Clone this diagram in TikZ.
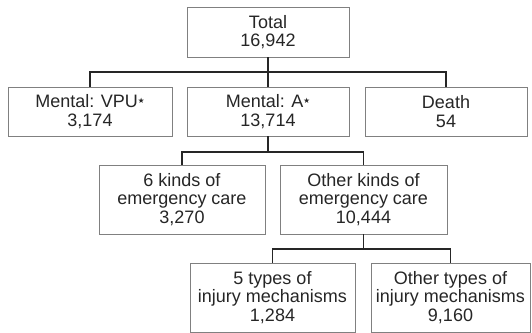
\documentclass[tikz,border=0pt]{standalone}
\usepackage{fontspec}
\setmainfont{Liberation Sans}
\newfontfamily\symfont{DejaVu Sans}
\newcommand{\smstar}{\raisebox{4pt}{\symfont\fontsize{7.5}{7.5}\selectfont ★}}
\begin{document}
\begin{tikzpicture}[x=1pt,y=-1pt,
  box/.style={draw=black!50,line width=0.9pt,fill=white,align=center,inner sep=0pt,
    text=black!85,font=\fontsize{18}{18.3}\selectfont},
  conn/.style={draw=black!85,line width=1.3pt}]
\useasboundingbox (0,0) rectangle (532,332);
\node[box,minimum width=162,minimum height=50] (total) at (268,32) {Total\\16,942};
\node[box,minimum width=164,minimum height=49] (vpu) at (90,111.5) {Mental: VPU\smstar\\3,174};
\node[box,minimum width=162,minimum height=49] (a) at (268,111.5) {Mental: A\smstar\\13,714};
\node[box,minimum width=162,minimum height=49] (death) at (446,111.5) {Death\\54};
\node[box,minimum width=166,minimum height=69] (six) at (182,199.5) {6 kinds of\\emergency care\\3,270};
\node[box,minimum width=167,minimum height=69] (other) at (363.5,199.5) {Other kinds of\\emergency care\\10,444};
\node[box,minimum width=165,minimum height=69] (five) at (272.5,297.5) {5 types of\\injury mechanisms\\1,284};
\node[box,minimum width=159,minimum height=69] (otypes) at (450.5,297.5) {Other types of\\injury mechanisms\\9,160};
\coordinate (b1) at (268,72);
\coordinate (b2) at (268,152);
\coordinate (b3) at (363.5,249);
\draw[conn] (total.south) -- (a.north);
\draw[conn] (vpu.north) |- (b1) -| (death.north);
\draw[conn] (a.south) -- (b2);
\draw[conn] (six.north) |- (b2) -| (other.north);
\draw[conn] (other.south) -- (b3);
\draw[conn] (five.north) |- (b3) -| (otypes.north);
\end{tikzpicture}
\end{document}
